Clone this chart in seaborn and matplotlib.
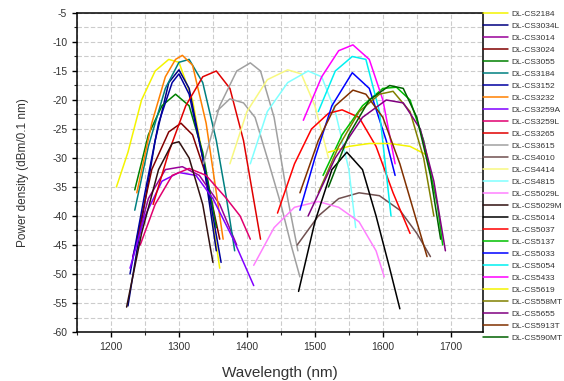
import pandas as pd
import matplotlib
matplotlib.use('Agg')
import matplotlib.pyplot as plt
import seaborn as sns
from matplotlib.ticker import MultipleLocator

# device names, in legend order
labels = ['DL-CS2184', 'DL-CS3034L', 'DL-CS3014', 'DL-CS3024', 'DL-CS3055',
          'DL-CS3184', 'DL-CS3152', 'DL-CS3232', 'DL-CS3259A', 'DL-CS3259L',
          'DL-CS3265', 'DL-CS3615', 'DL-CS4010', 'DL-CS4414', 'DL-CS4815',
          'DL-CS5029L', 'DL-CS5029M', 'DL-CS5014', 'DL-CS5037', 'DL-CS5137',
          'DL-CS5033', 'DL-CS5054', 'DL-CS5433', 'DL-CS5619', 'DL-CS558MT',
          'DL-CS5655', 'DL-CS5913T', 'DL-CS590MT']

# spectra: wavelength (nm) and power density (dBm/0.1 nm)
cs2184_wl = [1208, 1225, 1245, 1265, 1285, 1300, 1320, 1340, 1360]
cs2184_db = [-35, -29, -20, -15, -13, -13.5, -20, -33, -49]
cs3034_wl = [1225, 1245, 1265, 1285, 1300, 1315, 1335, 1355]
cs3034_db = [-55.5, -41, -27, -17, -14.8, -18, -30, -46]
cs3014_wl = [1232, 1255, 1280, 1305, 1330, 1360, 1385]
cs3014_db = [-47, -37, -32, -31.5, -33, -38, -45]
cs3024_wl = [1238, 1260, 1285, 1303, 1320, 1340, 1360]
cs3024_db = [-44, -32, -25.5, -24, -26, -33, -44]
cs3055_wl = [1235, 1255, 1275, 1295, 1315, 1335, 1355]
cs3055_db = [-35.5, -26, -21, -19, -21, -29, -42]
cs3184_wl = [1235, 1255, 1280, 1300, 1315, 1335, 1355, 1370, 1382]
cs3184_db = [-39, -28, -18, -13.5, -13, -17, -27, -37, -46]
cs3152_wl = [1228, 1250, 1270, 1290, 1300, 1315, 1335, 1350, 1362]
cs3152_db = [-50, -36, -24, -17, -15.5, -19, -30, -40, -48]
cs3232_wl = [1238, 1260, 1280, 1295, 1305, 1320, 1340, 1355, 1365]
cs3232_db = [-36, -24, -16, -13, -12.3, -14, -24, -36, -44]
cs3259a_wl = [1228, 1250, 1275, 1300, 1325, 1350, 1380, 1410]
cs3259a_db = [-49, -40, -34, -32.5, -33, -37, -44, -52]
cs3259l_wl = [1243, 1265, 1290, 1315, 1340, 1370, 1390, 1405]
cs3259l_db = [-45, -38, -33, -31.8, -33, -37, -40, -44]
cs3265_wl = [1262, 1285, 1310, 1335, 1355, 1375, 1395, 1420]
cs3265_db = [-38, -29, -21, -16, -15, -18, -27, -44]
cs3615_wl = [1336, 1360, 1385, 1405, 1420, 1440, 1460, 1475]
cs3615_db = [-31, -21, -15, -13.6, -15, -23, -37, -46]
cs3615b_wl = [1355, 1375, 1395, 1412, 1430, 1450, 1465, 1478]
cs3615b_db = [-22, -19.8, -20.5, -23, -30, -38, -45, -50.5]
cs4010_wl = [1474, 1505, 1535, 1565, 1595, 1625, 1650, 1670]
cs4010_db = [-45, -40, -37, -36, -36.5, -39, -43, -47]
cs4414_wl = [1375, 1400, 1430, 1460, 1480, 1500, 1520]
cs4414_db = [-31, -22, -16.5, -14.8, -15.5, -21, -30]
cs4815_wl = [1405, 1430, 1460, 1490, 1510, 1530, 1550, 1560]
cs4815_db = [-31, -22, -17, -15, -16, -22, -32, -42]
cs5029l_wl = [1410, 1440, 1470, 1505, 1535, 1565, 1590, 1602]
cs5029l_db = [-48.5, -42, -38.5, -37.5, -38.5, -41, -46, -50.5]
cs5029m_wl = [1223, 1245, 1270, 1290, 1300, 1315, 1335, 1350]
cs5029m_db = [-55.7, -43, -32, -27.5, -27.2, -30, -38, -48]
cs5014_wl = [1476, 1500, 1525, 1547, 1570, 1590, 1610, 1625]
cs5014_db = [-53, -41, -32, -29, -32, -40, -49, -56]
cs5037_wl = [1445, 1470, 1495, 1520, 1540, 1565, 1590, 1615, 1640]
cs5037_db = [-39.5, -31, -25, -22.3, -21.7, -23, -28, -36, -43]
cs5137_wl = [1512, 1540, 1570, 1600, 1620, 1640, 1660, 1680, 1688]
cs5137_db = [-33, -26, -21, -18, -17.8, -20, -27, -38, -45]
cs5033_wl = [1478, 1500, 1525, 1555, 1580, 1605, 1618]
cs5033_db = [-39, -30, -21, -15.3, -18, -27, -33]
cs5054_wl = [1505, 1530, 1555, 1575, 1595, 1612]
cs5054_db = [-22, -15, -12.5, -13, -22, -40]
cs5433_wl = [1483, 1510, 1535, 1556, 1580, 1600, 1618]
cs5433_db = [-23.5, -16, -11.5, -10.5, -13, -20, -31]
cs5619_wl = [1520, 1550, 1580, 1610, 1640, 1665]
cs5619_db = [-29, -28, -27.5, -27.5, -28, -29.5]
cs558mt_wl = [1505, 1535, 1565, 1595, 1615, 1640, 1660, 1675]
cs558mt_db = [-36, -28, -22, -19, -18.5, -22, -30, -40]
cs5655_wl = [1490, 1530, 1570, 1605, 1630, 1655, 1675, 1692]
cs5655_db = [-40, -30, -23, -20, -20.5, -25, -34, -46]
cs5913_wl = [1478, 1505, 1530, 1556, 1575, 1600, 1625, 1650, 1665]
cs5913_db = [-36, -27, -21, -18.3, -19, -23, -31, -41, -47]
cs590mt_wl = [1520, 1550, 1580, 1610, 1630, 1650, 1670, 1685]
cs590mt_db = [-35, -26, -20, -17.5, -18, -23, -33, -44]

colors = ['#F4F400', '#000080', '#990099', '#800000', '#008000', '#008080',
          '#0000A0', '#FF8000', '#8000FF', '#E0006F', '#E00000', '#A0A0A0',
          '#705050', '#F8F880', '#80FFFF', '#FF80FF', '#301010', '#000000',
          '#FF0000', '#00C000', '#0000FF', '#00F0F0', '#FF00FF', '#F4F400',
          '#808000', '#800080', '#803000', '#006000']

curves = [
    ('DL-CS2184', cs2184_wl, cs2184_db), ('DL-CS3034L', cs3034_wl, cs3034_db),
    ('DL-CS3014', cs3014_wl, cs3014_db), ('DL-CS3024', cs3024_wl, cs3024_db),
    ('DL-CS3055', cs3055_wl, cs3055_db), ('DL-CS3184', cs3184_wl, cs3184_db),
    ('DL-CS3152', cs3152_wl, cs3152_db), ('DL-CS3232', cs3232_wl, cs3232_db),
    ('DL-CS3259A', cs3259a_wl, cs3259a_db), ('DL-CS3259L', cs3259l_wl, cs3259l_db),
    ('DL-CS3265', cs3265_wl, cs3265_db), ('DL-CS3615', cs3615_wl, cs3615_db),
    ('DL-CS3615', cs3615b_wl, cs3615b_db), ('DL-CS4010', cs4010_wl, cs4010_db),
    ('DL-CS4414', cs4414_wl, cs4414_db), ('DL-CS4815', cs4815_wl, cs4815_db),
    ('DL-CS5029L', cs5029l_wl, cs5029l_db), ('DL-CS5029M', cs5029m_wl, cs5029m_db),
    ('DL-CS5014', cs5014_wl, cs5014_db), ('DL-CS5037', cs5037_wl, cs5037_db),
    ('DL-CS5137', cs5137_wl, cs5137_db), ('DL-CS5033', cs5033_wl, cs5033_db),
    ('DL-CS5054', cs5054_wl, cs5054_db), ('DL-CS5433', cs5433_wl, cs5433_db),
    ('DL-CS5619', cs5619_wl, cs5619_db), ('DL-CS558MT', cs558mt_wl, cs558mt_db),
    ('DL-CS5655', cs5655_wl, cs5655_db), ('DL-CS5913T', cs5913_wl, cs5913_db),
    ('DL-CS590MT', cs590mt_wl, cs590mt_db),
]

rows = []
for i, (name, wl, db) in enumerate(curves):
    for w, d in zip(wl, db):
        rows.append({'device': name, 'curve': i, 'wl': w, 'db': d})
df = pd.DataFrame(rows)

sns.set_style('white')
plt.rcParams['font.family'] = ['Liberation Sans', 'DejaVu Sans']
plt.rcParams['axes.unicode_minus'] = False

fig = plt.figure(figsize=(5.64, 3.81), dpi=100)
ax = fig.add_axes([0.1365, 0.1286, 0.7195, 0.8373])

sns.lineplot(data=df, x='wl', y='db', hue='device', units='curve',
             estimator=None, sort=False, hue_order=labels,
             palette=dict(zip(labels, colors)), linewidth=1.1, ax=ax)

ax.set_xlim(1150, 1747)
ax.set_ylim(-60, -5)
ax.xaxis.set_major_locator(MultipleLocator(100))
ax.xaxis.set_minor_locator(MultipleLocator(50))
ax.yaxis.set_major_locator(MultipleLocator(5))
ax.yaxis.set_minor_locator(MultipleLocator(2.5))
ax.grid(True, which='both', color='#CCCCCC', linestyle=(0, (4, 2)), linewidth=0.8)
ax.set_axisbelow(True)
ax.tick_params(which='major', direction='out', length=3.5, width=1.0,
               labelsize=7.5, labelcolor='#333333', colors='black')
ax.tick_params(which='minor', direction='out', length=2, width=0.8)
ax.tick_params(axis='x', which='both', bottom=True)
ax.tick_params(axis='y', which='both', left=True)
for s in ax.spines.values():
    s.set_color('black')
    s.set_linewidth(1.1)

ax.set_xlabel('Wavelength (nm)', fontsize=11, color='#333333', labelpad=10)
ax.set_ylabel('Power density (dBm/0.1 nm)', fontsize=8.5, color='#333333', labelpad=17)

handles, labs = ax.get_legend_handles_labels()
ax.legend(handles, labs, loc='upper left', bbox_to_anchor=(0.993, 1.019),
          borderaxespad=0, frameon=False, fontsize=6, handlelength=3.0,
          handletextpad=0.4, labelspacing=0.5, labelcolor='#333333')

fig.savefig('out.png', dpi=100)
